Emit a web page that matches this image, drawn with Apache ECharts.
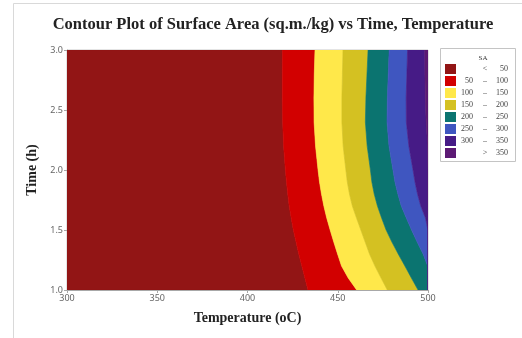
<!DOCTYPE html>
<html>
<head>
<meta charset="utf-8">
<script src="https://cdn.jsdelivr.net/npm/echarts@6/dist/echarts.min.js"></script>
<style>
  html, body { margin: 0; padding: 0; background: #fff; }
  #chart { width: 522px; height: 338px; }
</style>
</head>
<body>
<div id="chart"></div>
<script>
// Time grid (h) on which the contour boundaries are sampled
const times = [1.0, 1.1, 1.2, 1.3, 1.4, 1.5, 1.6, 1.7, 1.8, 1.9, 2.0, 2.2, 2.4, 2.6, 2.8, 3.0];

// Temperature (oC) where the surface area crosses each contour level, per time
const sa50  = [433.5, 431.8, 430.1, 428.4, 426.9, 425.4, 424.2, 423.1, 422.3, 421.6, 421.0, 420.0, 419.5, 419.3, 419.3, 419.4];
const sa100 = [460.5, 455.8, 452.1, 449.9, 447.8, 445.8, 443.9, 442.3, 441.0, 439.9, 439.1, 437.7, 436.9, 436.8, 437.0, 437.4];
const sa150 = [477.5, 474.0, 470.6, 467.6, 465.2, 462.8, 460.4, 458.1, 456.5, 455.3, 454.5, 453.0, 452.3, 452.3, 452.6, 452.9];
const sa200 = [494.5, 490.8, 487.2, 483.5, 480.0, 476.8, 474.3, 472.0, 470.2, 468.9, 468.1, 466.3, 465.3, 465.6, 466.2, 466.8];
const sa250 = [500.0, 500.0, 499.8, 497.3, 494.0, 490.9, 488.0, 485.2, 483.3, 481.7, 480.6, 478.4, 477.3, 477.5, 478.0, 478.5];
const sa300 = [500.0, 500.0, 500.0, 500.0, 500.0, 500.0, 498.6, 496.0, 494.2, 492.8, 491.7, 489.4, 488.0, 487.9, 488.3, 488.7];
const sa350 = [500.0, 500.0, 500.0, 500.0, 500.0, 500.0, 500.0, 500.0, 500.0, 500.0, 500.0, 499.8, 499.0, 498.5, 498.3, 498.2];

// Band legend
const legendLow  = ['', '50', '100', '150', '200', '250', '300', ''];
const legendSep  = ['<', '\u2013', '\u2013', '\u2013', '\u2013', '\u2013', '\u2013', '>'];
const legendHigh = ['50', '100', '150', '200', '250', '300', '350', '350'];
const bandColors = ['#921515', '#d20000', '#ffe84a', '#d4c122', '#0b7470', '#3f56c0', '#461b86', '#5c1a74'];

const tempMin = 300, tempMax = 500;
const timeMin = 1, timeMax = 3;

const bounds = [sa50, sa100, sa150, sa200, sa250, sa300, sa350];

function renderBand(params, api) {
  const i = api.value(0);
  const left = i === 0 ? times.map(() => tempMin) : bounds[i - 1];
  const right = i === bounds.length ? times.map(() => tempMax) : bounds[i];
  const pts = [];
  for (let k = 0; k < times.length; k++) pts.push(api.coord([left[k], times[k]]));
  for (let k = times.length - 1; k >= 0; k--) pts.push(api.coord([right[k], times[k]]));
  const c = bandColors[i];
  return {
    type: 'polygon',
    shape: { points: pts },
    style: { fill: c, stroke: c, lineWidth: 0.6 }
  };
}

// Legend box drawn as graphic elements
const legendGraphics = [
  { type: 'rect', shape: { x: 440.5, y: 48.5, width: 75, height: 113 },
    style: { fill: '#fff', stroke: '#c4c4c4', lineWidth: 1 } },
  { type: 'text', x: 483, y: 58, style: { text: 'SA', fill: '#333', font: '7px "Liberation Serif"', textAlign: 'center', textVerticalAlign: 'middle' } }
];
bandColors.forEach((c, i) => {
  const y = 69 + i * 12;
  legendGraphics.push({ type: 'rect', shape: { x: 445, y: y - 5, width: 11, height: 10 }, style: { fill: c } });
  if (legendLow[i]) {
    legendGraphics.push({ type: 'text', x: 473, y: y, style: { text: legendLow[i], fill: '#444', font: '8px "Liberation Serif"', textAlign: 'right', textVerticalAlign: 'middle' } });
  }
  legendGraphics.push({ type: 'text', x: 485, y: y, style: { text: legendSep[i], fill: '#444', font: '8px "Liberation Serif"', textAlign: 'center', textVerticalAlign: 'middle' } });
  legendGraphics.push({ type: 'text', x: 508, y: y, style: { text: legendHigh[i], fill: '#444', font: '8px "Liberation Serif"', textAlign: 'right', textVerticalAlign: 'middle' } });
});

const chart = echarts.init(document.getElementById('chart'), null, { renderer: 'canvas' });
chart.setOption({
  animation: false,
  backgroundColor: '#fff',
  title: {
    text: 'Contour Plot of Surface Area (sq.m./kg) vs Time, Temperature',
    left: 268, top: 11, textAlign: 'center',
    textStyle: { fontFamily: 'Liberation Serif', fontWeight: 'bold', fontSize: 16.5, color: '#222' }
  },
  grid: { left: 67, right: 94, top: 50, bottom: 48, show: true, borderColor: '#c8c8c8', borderWidth: 1, backgroundColor: 'transparent' },
  xAxis: {
    type: 'value', min: tempMin, max: tempMax, interval: 50,
    name: 'Temperature (oC)', nameLocation: 'middle', nameGap: 21,
    nameTextStyle: { fontFamily: 'Liberation Serif', fontWeight: 'bold', fontSize: 14, color: '#222' },
    axisLine: { show: true, lineStyle: { color: '#a8a8a8' } },
    axisTick: { show: true, length: 3, lineStyle: { color: '#a8a8a8' } },
    axisLabel: { fontFamily: 'Noto Sans', fontSize: 9, color: '#666', margin: 4 },
    splitLine: { show: false }
  },
  yAxis: {
    type: 'value', min: timeMin, max: timeMax, interval: 0.5,
    name: 'Time (h)', nameLocation: 'middle', nameGap: 27, nameRotate: 90,
    nameTextStyle: { fontFamily: 'Liberation Serif', fontWeight: 'bold', fontSize: 14, color: '#222' },
    axisLine: { show: true, lineStyle: { color: '#a8a8a8' } },
    axisTick: { show: true, length: 3, lineStyle: { color: '#a8a8a8' } },
    axisLabel: { fontFamily: 'Noto Sans', fontSize: 9, color: '#666', margin: 4, formatter: v => v.toFixed(1) },
    splitLine: { show: false }
  },
  series: [{
    type: 'custom',
    renderItem: renderBand,
    clip: true,
    data: bandColors.map((c, i) => [i]),
    encode: { x: -1, y: -1 },
    z: 1
  }],
  graphic: [
    { type: 'line', shape: { x1: 13.5, y1: 3.5, x2: 522, y2: 3.5 }, style: { stroke: '#d9d9d9', lineWidth: 1 } },
    { type: 'line', shape: { x1: 13.5, y1: 3.5, x2: 13.5, y2: 338 }, style: { stroke: '#d9d9d9', lineWidth: 1 } }
  ].concat(legendGraphics)
});
</script>
</body>
</html>
